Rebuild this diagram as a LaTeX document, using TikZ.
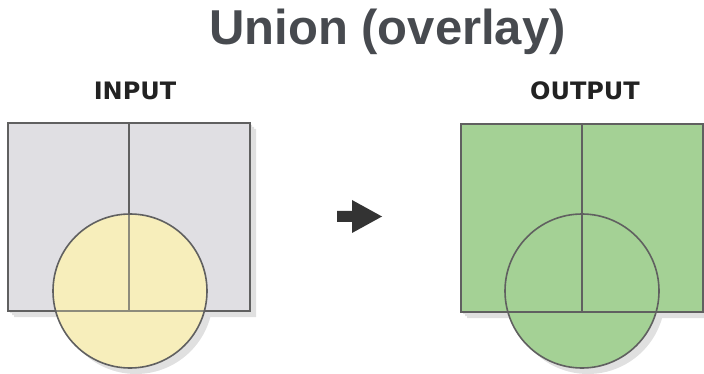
\documentclass[tikz,border=0pt]{standalone}
\usepackage{fontspec}
\newfontfamily\titlefont{Liberation Sans}
\newfontfamily\lblfont{DejaVu Sans}
\definecolor{titlegray}{HTML}{474A4F}
\definecolor{lblgray}{HTML}{222222}
\definecolor{boxgray}{HTML}{E0DFE3}
\definecolor{edgegray}{HTML}{606060}
\definecolor{inyellow}{HTML}{F7EEBB}
\definecolor{outgreen}{HTML}{A4D195}
\definecolor{arrowdark}{HTML}{333333}
\tikzset{
  titletext/.style={font=\titlefont\bfseries\fontsize{49}{55}\selectfont, text=titlegray, anchor=base, inner sep=0pt},
  lbltext/.style={font=\lblfont\bfseries\fontsize{24}{28}\selectfont, text=lblgray, anchor=base, inner sep=0pt},
  edge/.style={draw=edgegray, line width=1.6pt},
  innerline/.style={draw=edgegray!70!inyellow, line width=1.6pt},
  arrowfill/.style={fill=arrowdark}
}
\begin{document}
\begin{tikzpicture}[x=1pt,y=-1pt]
\useasboundingbox (0,0) rectangle (704,374);
\fill[white] (0,0) rectangle (704,374);

% title and labels
\node[titletext] (title) at (387.5,45) {Union (overlay)};
\node[lbltext] (inlbl) at (135,100) {INPUT};
\node[lbltext] (outlbl) at (585,100) {OUTPUT};

% ---------- INPUT ----------
\begin{scope}[transparency group, opacity=0.12]
  \foreach \d in {2,4,6}{
    \fill[black] (8+\d,123+\d) rectangle (250+\d,311+\d);
    \fill[black] (130+\d,291+\d) circle (77);
  }
\end{scope}
\fill[boxgray] (8,123) rectangle (250,311);
\fill[inyellow] (130,291) circle (77);
\draw[edge] (8,123) rectangle (250,311);
\draw[edge] (129,123) -- (129,214);
\begin{scope}
  \clip (130,291) circle (77);
  \fill[inyellow] (130,291) circle (77);
  \draw[innerline] (129,200) -- (129,311);
  \draw[innerline] (40,311) -- (220,311);
\end{scope}
\draw[edge] (130,291) circle (77);

% ---------- arrow ----------
\fill[arrowfill] (337,211) -- (352,211) -- (352,200) -- (382,216.5) -- (352,233) -- (352,222) -- (337,222) -- cycle;

% ---------- OUTPUT ----------
\begin{scope}[transparency group, opacity=0.12]
  \foreach \d in {2,4,6}{
    \fill[black] (461+\d,124+\d) rectangle (703+\d,312+\d);
    \fill[black] (582+\d,291+\d) circle (77);
  }
\end{scope}
\fill[outgreen] (461,124) rectangle (703,312);
\fill[outgreen] (582,291) circle (77);
\draw[edge] (461,124) rectangle (703,312);
\draw[edge] (582,124) -- (582,312);
\draw[edge] (582,291) circle (77);
\end{tikzpicture}
\end{document}
